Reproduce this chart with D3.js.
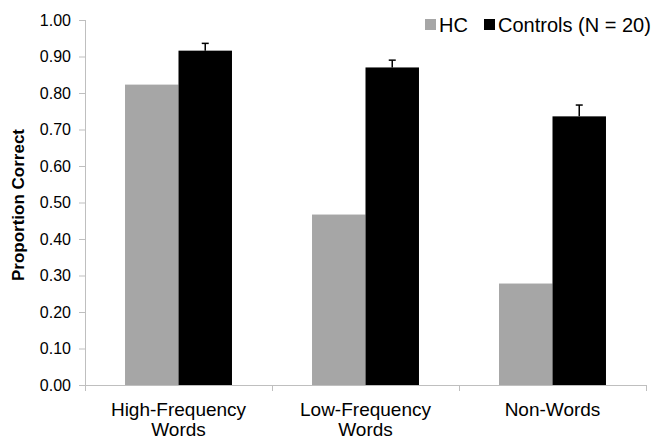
<!DOCTYPE html>
<html><head><meta charset="utf-8">
<script src="https://cdn.jsdelivr.net/npm/d3@7"></script>
<style>body{margin:0;background:#fff}svg{display:block}</style>
</head><body>
<svg id="c" width="657" height="440"></svg>
<script>
const categories = [["High-Frequency","Words"],["Low-Frequency","Words"],["Non-Words"]];
const seriesNames = ["HC","Controls (N = 20)"];
const hcValues = [0.823, 0.467, 0.278];
const controlValues = [0.916, 0.870, 0.736];
const controlErrors = [0.020, 0.020, 0.031];
const yTicks = [0,0.1,0.2,0.3,0.4,0.5,0.6,0.7,0.8,0.9,1.0];

(function(){
const colors = ["#a6a6a6","#000000"];
const svg = d3.select("#c");
const mLeft = 85, mRight = 646, mTop = 20, mBottom = 385;
const font = "Liberation Sans, Arial, sans-serif";

const x0 = d3.scaleBand().domain(d3.range(categories.length)).range([mLeft,mRight]).paddingInner(0.428).paddingOuter(0.214);
const x1 = d3.scaleBand().domain([0,1]).range([0,x0.bandwidth()]);
const y = d3.scaleLinear().domain([0,1]).range([mBottom,mTop]);

// axes
const yAxis = svg.append("g").attr("transform",`translate(${mLeft},0)`)
  .call(d3.axisLeft(y).tickValues(yTicks).tickFormat(d3.format(".2f")).tickSize(6).tickPadding(8));
yAxis.selectAll("path,line").attr("stroke","#bfbfbf");
yAxis.selectAll("text").attr("font-family",font).attr("font-size","16px").attr("fill","#000");
yAxis.select(".domain").attr("d",`M0.5,${mTop}V${mBottom}`);

const xStep = x0.step();
const xAxis = svg.append("g").attr("transform",`translate(0,${mBottom})`);
xAxis.append("line").attr("x1",mLeft).attr("x2",mRight).attr("y1",0.5).attr("y2",0.5).attr("stroke","#bfbfbf");
xAxis.selectAll("line.tk").data(d3.range(categories.length+1)).join("line").attr("class","tk")
  .attr("x1",i=>mLeft+i*xStep+0.5).attr("x2",i=>mLeft+i*xStep+0.5).attr("y1",0).attr("y2",6).attr("stroke","#bfbfbf");

// bars
const g = svg.append("g");
const data = categories.map((c,i)=>({i, vals:[hcValues[i], controlValues[i]]}));
const grp = g.selectAll("g.grp").data(data).join("g").attr("class","grp").attr("transform",d=>`translate(${x0(d.i)},0)`);
grp.selectAll("rect").data(d=>d.vals.map((v,k)=>({v,k}))).join("rect")
  .attr("x",d=>x1(d.k)).attr("width",x1.bandwidth()).attr("y",d=>y(d.v)).attr("height",d=>mBottom-y(d.v))
  .attr("fill",d=>colors[d.k]);

// error bars (upper only)
const eb = g.selectAll("g.eb").data(data).join("g").attr("class","eb");
const ex = d=>x0(d.i)+x1(1)+x1.bandwidth()/2;
eb.append("line").attr("x1",ex).attr("x2",ex)
  .attr("y1",d=>y(controlValues[d.i])).attr("y2",d=>y(controlValues[d.i]+controlErrors[d.i])).attr("stroke","#000").attr("stroke-width",1.5);
eb.append("line").attr("x1",d=>ex(d)-3.5).attr("x2",d=>ex(d)+3.5)
  .attr("y1",d=>y(controlValues[d.i]+controlErrors[d.i])).attr("y2",d=>y(controlValues[d.i]+controlErrors[d.i])).attr("stroke","#000").attr("stroke-width",1.5);

// x labels
const xl = svg.append("g");
categories.forEach((lines,i)=>{
  const cx = x0(i)+x0.bandwidth()/2;
  lines.forEach((t,j)=>{
    xl.append("text").attr("x",cx).attr("y",416+j*20).attr("text-anchor","middle")
      .attr("font-family",font).attr("font-size","19px").attr("fill","#000").text(t);
  });
});

// y label
svg.append("text").attr("transform","translate(24,205) rotate(-90)").attr("text-anchor","middle")
  .attr("font-family",font).attr("font-size","17px").attr("font-weight","bold").attr("fill","#000").text("Proportion Correct");

// legend
const legend = svg.append("g");
const lx = [425, 484];
seriesNames.forEach((n,k)=>{
  legend.append("rect").attr("x",lx[k]).attr("y",19).attr("width",11).attr("height",11).attr("fill",colors[k]);
  legend.append("text").attr("x",lx[k]+14).attr("y",32).attr("font-family",font).attr("font-size","20px").attr("fill","#000").text(n);
});
})();
</script>
</body></html>
